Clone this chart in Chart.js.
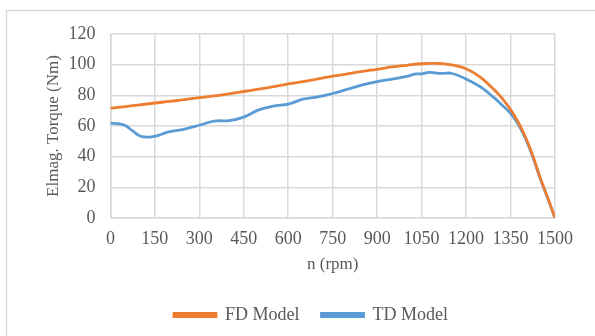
<!DOCTYPE html>
<html>
<head>
<meta charset="utf-8">
<script src="https://cdn.jsdelivr.net/npm/chart.js@4.4.1/dist/chart.umd.min.js"></script>
<style>
  html, body { margin: 0; padding: 0; background: #fff; }
  #wrap { width: 595px; height: 336px; }
</style>
</head>
<body>
<div id="wrap"><canvas id="torque-chart" width="595" height="336"></canvas></div>
<script>
const fdRpm = [0, 50, 100, 150, 200, 250, 300, 350, 400, 450, 500, 550, 600, 650, 700, 750, 800, 850, 900, 950, 1000, 1050, 1100, 1150, 1200, 1250, 1300, 1325, 1350, 1375, 1400, 1425, 1450, 1475, 1500];
const fdTorque = [71.5, 72.7, 73.8, 75, 76, 77.2, 78.5, 79.6, 81, 82.5, 84, 85.6, 87.5, 89, 90.7, 92.5, 94, 95.6, 97, 98.5, 99.6, 100.6, 100.8, 99.9, 97.3, 91.6, 82.6, 77.2, 70.8, 62.8, 53, 40.7, 26.2, 13.5, 0];

const tdRpm = [0, 25, 50, 75, 100, 125, 150, 175, 200, 250, 300, 350, 400, 450, 500, 550, 600, 650, 700, 750, 800, 850, 900, 950, 1000, 1025, 1050, 1075, 1100, 1125, 1150, 1200, 1250, 1300, 1325, 1350, 1375, 1400, 1425, 1450, 1475, 1500];
const tdTorque = [61.8, 61.5, 60.3, 56.8, 53.5, 52.7, 53.2, 54.8, 56.3, 58, 60.5, 63.2, 63.5, 65.8, 70.5, 73, 74.3, 77.5, 79, 81.2, 84, 86.8, 89, 90.5, 92.3, 93.8, 94, 95, 94.5, 94.3, 94.4, 90.7, 85.3, 77.5, 73, 68.2, 61.5, 52, 40, 25.8, 13, 0];

const xTicks = { min: 0, max: 1500, step: 150 };
const yTicks = { min: 0, max: 120, step: 20 };

const gridGray = '#d9d9d9';
const textGray = '#595959';
const serif = "'Liberation Serif', 'DejaVu Serif', serif";

function toPoints(xs, ys) {
  return xs.map((x, i) => ({ x: x, y: ys[i] }));
}

// light frame round the chart like the Excel export
const framePlugin = {
  id: 'frame',
  beforeDraw(chart) {
    const ctx = chart.ctx;
    ctx.save();
    ctx.strokeStyle = gridGray;
    ctx.lineWidth = 1.5;
    ctx.beginPath();
    ctx.moveTo(6.5, 336);
    ctx.lineTo(6.5, 10.5);
    ctx.lineTo(595, 10.5);
    ctx.stroke();
    ctx.restore();
  }
};

// legend sits a bit right of the canvas centre in the original
const legendShift = {
  id: 'legendShift',
  afterLayout(chart) {
    chart.legend.left += 12;
    chart.legend.right += 12;
  }
};

new Chart(document.getElementById('torque-chart').getContext('2d'), {
  type: 'line',
  data: {
    datasets: [{
      label: 'FD Model',
      data: toPoints(fdRpm, fdTorque),
      borderColor: '#ED7D31',
      backgroundColor: '#ED7D31',
      borderWidth: 2.8,
      pointRadius: 0,
      tension: 0.4
    }, {
      label: 'TD Model',
      data: toPoints(tdRpm, tdTorque),
      borderColor: '#5B9BD5',
      backgroundColor: '#5B9BD5',
      borderWidth: 2.8,
      pointRadius: 0,
      tension: 0.4
    }]
  },
  options: {
    responsive: false,
    animation: false,
    layout: { padding: { top: 34, left: 43, right: 40, bottom: 2 } },
    scales: {
      x: {
        type: 'linear',
        min: xTicks.min,
        max: xTicks.max,
        ticks: {
          stepSize: xTicks.step, color: textGray, font: { family: serif, size: 18 }, padding: 10, maxRotation: 0,
          autoSkip: false, callback: v => String(v)
        },
        grid: { color: gridGray, lineWidth: 1.5, drawTicks: false },
        border: { color: gridGray, width: 1.5 },
        title: { display: true, text: 'n (rpm)', color: textGray, font: { family: serif, size: 17 }, padding: { top: -5, bottom: 9 } }
      },
      y: {
        min: yTicks.min,
        max: yTicks.max,
        ticks: { stepSize: yTicks.step, color: textGray, font: { family: serif, size: 18 }, padding: 15 },
        grid: { color: gridGray, lineWidth: 1.5, drawTicks: false },
        border: { color: gridGray, width: 1.5 },
        title: { display: true, text: 'Elmag. Torque (Nm)', color: textGray, font: { family: serif, size: 17 }, padding: { top: 0, bottom: -10 } }
      }
    },
    plugins: {
      legend: {
        position: 'bottom',
        labels: { boxWidth: 42, boxHeight: 3, color: textGray, font: { family: serif, size: 18 }, padding: 22 }
      },
      tooltip: { enabled: false }
    }
  },
  plugins: [framePlugin, legendShift]
});
</script>
</body>
</html>
